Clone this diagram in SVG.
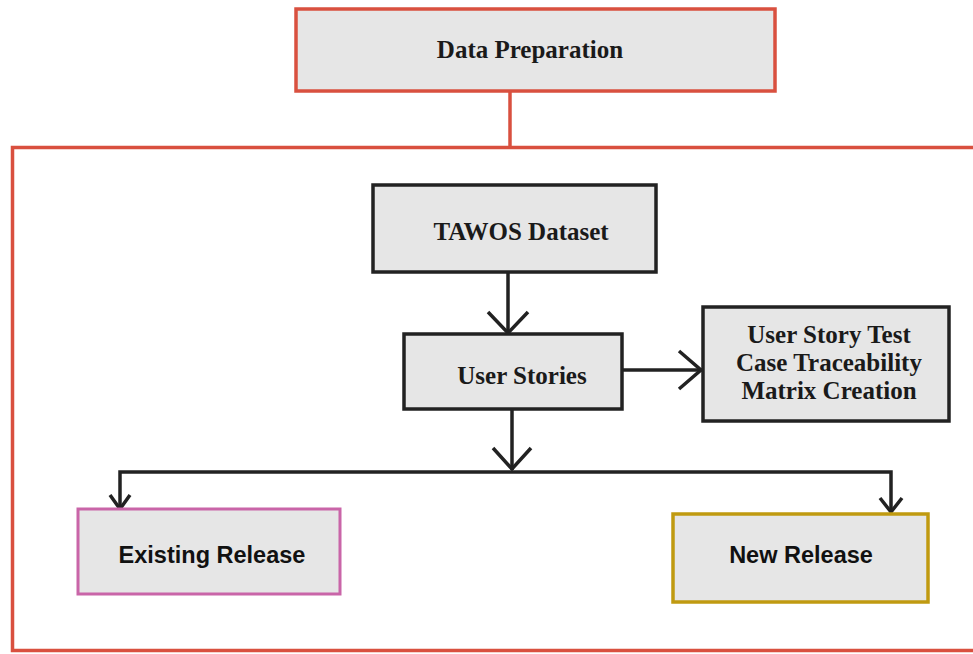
<svg xmlns="http://www.w3.org/2000/svg" width="973" height="654" viewBox="0 0 973 654">
<style>
.serif{font-family:"Liberation Serif","Times New Roman",serif;font-weight:bold;font-size:25px;fill:#1a1a1a;text-anchor:middle}
.sans{font-family:"Liberation Sans",Arial,sans-serif;font-weight:bold;font-size:23.5px;fill:#111;text-anchor:middle}
.dark{fill:#e6e6e6;stroke:#222;stroke-width:3.5}
.conn{fill:none;stroke:#222;stroke-width:3.5;stroke-linejoin:miter}
.red{stroke:#d9503f;stroke-width:3.5;fill:none}
</style>
<rect width="973" height="654" fill="#fff"/>
<g id="outer">
<path class="red" d="M990 147.5 H12.5 V650.5 H990"/>
</g>
<g id="connectors">
<line class="red" x1="510" y1="91" x2="510" y2="147.5"/>
<line class="conn" x1="508" y1="272" x2="508" y2="333"/>
<path class="conn" d="M488 312 L508 333 L528 312"/>
<line class="conn" x1="622" y1="370" x2="702" y2="370"/>
<path class="conn" d="M679 351 L701 370 L679 389"/>
<line class="conn" x1="512" y1="409" x2="512" y2="470"/>
<path class="conn" d="M493 448 L512 469 L531 448"/>
<path class="conn" d="M120 511 V472 H891 V512"/>
<path class="conn" d="M110 495 L120 509 L130 495"/>
<path class="conn" d="M880 498 L891 512 L902 498"/>
</g>
<g id="data-preparation">
<rect x="296" y="9" width="479" height="82" fill="#e6e6e6" stroke="#d9503f" stroke-width="3.5"/>
<text class="serif" x="530" y="58">Data Preparation</text>
</g>
<g id="tawos">
<rect class="dark" x="373" y="185" width="283" height="87"/>
<text class="serif" x="521" y="240">TAWOS Dataset</text>
</g>
<g id="user-stories">
<rect class="dark" x="404" y="334" width="218" height="75"/>
<text class="serif" x="522" y="384">User Stories</text>
</g>
<g id="matrix">
<rect class="dark" x="703" y="307" width="246" height="114"/>
<text class="serif" x="829" y="343">User Story Test</text>
<text class="serif" x="829" y="371">Case Traceability</text>
<text class="serif" x="829" y="399">Matrix Creation</text>
</g>
<g id="existing-release">
<rect x="78" y="509" width="262" height="85" fill="#e6e6e6" stroke="#c965a8" stroke-width="3"/>
<text class="sans" x="212" y="563">Existing Release</text>
</g>
<g id="new-release">
<rect x="673" y="514" width="255" height="88" fill="#e6e6e6" stroke="#c09a10" stroke-width="3.5"/>
<text class="sans" x="801" y="563">New Release</text>
</g>
</svg>
